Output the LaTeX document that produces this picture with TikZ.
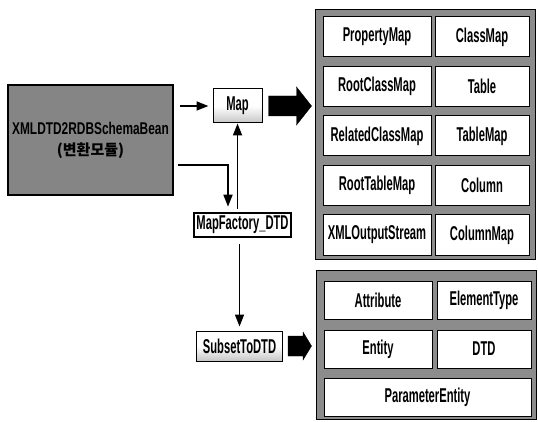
\documentclass[tikz,border=0pt]{standalone}
\usepackage{fontspec}
\setmainfont{Liberation Sans}[FakeStretch=0.56]
\newfontfamily\srcfont{Liberation Sans}[FakeStretch=0.7]
\newfontfamily\krfont{Noto Sans CJK KR}
\usetikzlibrary{arrows.meta,calc}
\definecolor{panelgray}{HTML}{8C8C8C}
\definecolor{srcgray}{HTML}{858585}
\tikzset{
  cell/.style={draw=black,line width=1pt,fill=white,minimum height=40pt,inner sep=0pt,font=\fontsize{20}{20}\selectfont\bfseries},
  lcell/.style={cell,minimum width=108pt},
  rcell/.style={cell,minimum width=94pt},
  panel/.style={draw=black,line width=1pt,fill=panelgray,inner sep=0pt},
  smallbox/.style={draw=black,line width=1pt,inner sep=0pt,font=\fontsize{20}{20}\selectfont\bfseries,
     top color=white,bottom color=gray!45,middle color=white},
  arr/.style={line width=1.7pt,-{Triangle[length=12pt,width=9pt]}},
  blockarrow/.style={fill=black,draw=black}
}
\begin{document}
\begin{tikzpicture}[x=1pt,y=-1pt]
\useasboundingbox (0,0) rectangle (538,422);
% source
\node[draw=black,line width=1.2pt,fill=srcgray,minimum width=165pt,minimum height=110pt,inner sep=0pt,
      align=center,font=\srcfont\fontsize{17}{21}\selectfont\bfseries] (src) at (90.5,140)
      {XMLDTD2RDBSchemaBean\\{\krfont\bfseries\fontsize{15}{21}\selectfont (변환모듈)}};
% map
\node[smallbox,minimum width=49pt,minimum height=34pt] (map) at (237.5,106) {Map};
% map factory
\node[draw=black,line width=2.6pt,fill=white,minimum width=97pt,minimum height=24pt,inner sep=0pt,
      font=\fontsize{20}{20}\selectfont\bfseries] (mf) at (242.5,225) {MapFactory\_DTD};
% subset
\node[smallbox,minimum width=86pt,minimum height=30pt] (sub) at (239.5,346) {SubsetToDTD};
% top panel
\node[panel,minimum width=220pt,minimum height=249pt] (top) at (425,134.5) {};
\node[lcell] (pm) at (377,37) {PropertyMap};
\node[rcell] (cm) at (482,37) {ClassMap};
\node[lcell] (rcm) at (377,86.5) {RootClassMap};
\node[rcell] (tb) at (482,86.5) {Table};
\node[lcell] (relcm) at (377,136) {RelatedClassMap};
\node[rcell] (tm) at (482,136) {TableMap};
\node[lcell] (rtm) at (377,185.5) {RootTableMap};
\node[rcell] (col) at (482,185.5) {Column};
\node[lcell] (xos) at (377,235) {XMLOutputStream};
\node[rcell] (colm) at (482,235) {ColumnMap};
% bottom panel
\node[panel,minimum width=220pt,minimum height=149pt] (bot) at (426,344.5) {};
\node[lcell,minimum height=38pt] (att) at (378,300) {Attribute};
\node[rcell,minimum height=38pt] (et) at (484,300) {ElementType};
\node[lcell,minimum height=38pt] (ent) at (378,349) {Entity};
\node[rcell,minimum height=38pt] (dtd) at (484,349) {DTD};
\node[cell,minimum width=207pt,minimum height=38pt] (pe) at (427.5,397.5) {ParameterEntity};
% thin arrows
\draw[arr,shorten <=6pt,shorten >=4pt] (src.east |- map.west) -- (map.west);
\draw[arr,shorten >=5pt] ([yshift=-25pt,xshift=4pt]src.east) -| ([xshift=-14.5pt]mf.north);
\draw[arr,shorten <=3pt] (map.south |- mf.north) -- (map.south);
\draw[arr,shorten <=6pt,shorten >=4pt] (mf.south -| sub.north) -- (sub.north);
% block arrows
\coordinate (a1) at ($(map.east)+(6,0)$);
\coordinate (a1t) at ($(top.west|-map.east)+(-3,0)$);
\fill[blockarrow] ($(a1)+(0,-10)$) -- ($(a1)+(28,-10)$) -- ($(a1)+(28,-19)$) -- (a1t)
  -- ($(a1)+(28,19)$) -- ($(a1)+(28,10)$) -- ($(a1)+(0,10)$) -- cycle;
\coordinate (a2) at ($(sub.east)+(5,0)$);
\coordinate (a2t) at ($(bot.west|-sub.east)+(-4,0)$);
\fill[blockarrow] ($(a2)+(0,-10)$) -- ($(a2)+(15,-10)$) -- ($(a2)+(15,-14)$) -- (a2t)
  -- ($(a2)+(15,14)$) -- ($(a2)+(15,10)$) -- ($(a2)+(0,10)$) -- cycle;
\end{tikzpicture}
\end{document}
